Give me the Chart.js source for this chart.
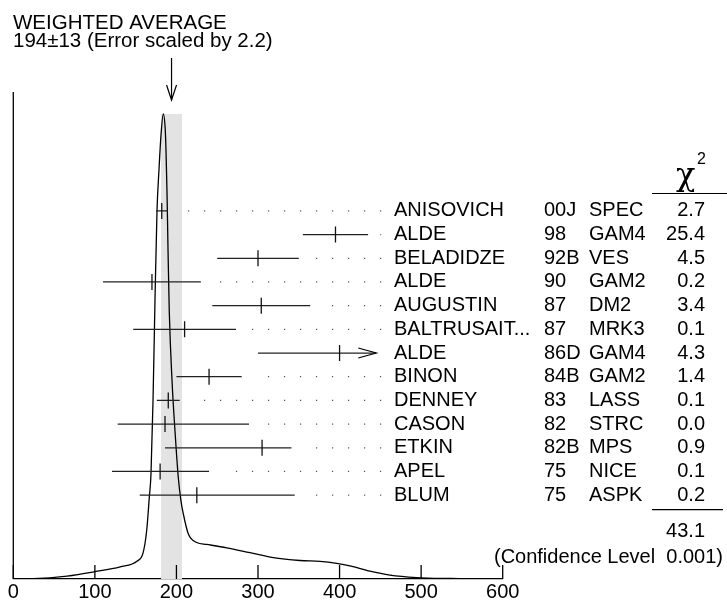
<!DOCTYPE html>
<html>
<head>
<meta charset="utf-8">
<title>Weighted average ideogram</title>
<script src="https://cdn.jsdelivr.net/npm/chart.js@4.4.1/dist/chart.umd.min.js"></script>
<style>
  html, body { margin: 0; padding: 0; background: #fff; }
  #wrap { width: 727px; height: 610px; }
</style>
</head>
<body>
<div id="wrap"><canvas id="ideogram" width="727" height="610"></canvas></div>
<script>
  // Measurements, top row first
  const authors = ['ANISOVICH', 'ALDE', 'BELADIDZE', 'ALDE', 'AUGUSTIN', 'BALTRUSAIT...', 'ALDE',
    'BINON', 'DENNEY', 'CASON', 'ETKIN', 'APEL', 'BLUM'];
  const years = ['00J', '98', '92B', '90', '87', '87', '86D', '84B', '83', '82', '82B', '75', '75'];
  const techniques = ['SPEC', 'GAM4', 'VES', 'GAM2', 'DM2', 'MRK3', 'GAM4', 'GAM2', 'LASS', 'STRC',
    'MPS', 'NICE', 'ASPK'];
  const chiSquared = ['2.7', '25.4', '4.5', '0.2', '3.4', '0.1', '4.3', '1.4', '0.1', '0.0', '0.9', '0.1', '0.2'];
  const values = [182, 395, 300, 170, 304, 210, 400, 240, 190, 186, 305, 180, 225];
  const errLow = [175, 355, 250, 110, 244, 147, 300, 200, 176, 128, 186, 121, 155];
  const errHigh = [189, 435, 350, 230, 364, 273, 445, 280, 204, 289, 341, 240, 345];
  const arrowRight = [false, false, false, false, false, false, true, false, false, false, false, false, false];

  // Weighted average
  const average = 194;
  const averageErr = 13;
  const errorScale = 2.2;
  const chiTotal = '43.1';
  const confidenceLevel = '0.001';

  // Ideogram curve (x in value units, y in % of plot height)
  const curveX = [0, 24, 66, 100, 131, 152, 159, 163.5, 166.7, 168.8, 171.3, 173.7, 176.2, 178.6, 181.1,
    183.9, 186.3, 187.2, 188.4, 189.7, 191.2, 194.6, 198.2, 202.3, 205.6, 208.4, 214.5, 224.8, 237,
    261.6, 290.2, 318.7, 351.5, 376, 396.5, 412.8, 437.3, 461.8, 494.5, 535.3, 575.8, 600];
  const curveY = [0, 0.05, 0.6, 1.5, 2.5, 3.7, 5.3, 9.9, 16.7, 21.5, 36.6, 57.2, 75.7, 84.0, 91.2,
    95.5, 92.2, 88.1, 79.8, 67.5, 55.1, 40.7, 30.5, 20.8, 16.0, 13.4, 9.3, 7.5, 7.1,
    6.4, 5.4, 4.4, 3.8, 3.6, 3.2, 2.7, 1.6, 0.8, 0.3, 0.1, 0, 0];

  const xTicks = [0, 100, 200, 300, 400, 500, 600];

  const FONT = "'Liberation Sans', Arial, Helvetica, sans-serif";
  const INK = '#000';
  const LEADER_END = 451; // where the dotted leaders stop, in value units
  const LEADER_GAP = 15;

  const peak = Math.max(...curveY);

  const datasets = [];

  // Shaded band for the weighted average
  datasets.push({
    type: 'line',
    data: [{ x: average - averageErr, y: peak }, { x: average + averageErr, y: peak }],
    yAxisID: 'y',
    fill: 'origin',
    backgroundColor: '#e3e3e3',
    borderWidth: 0,
    pointRadius: 0,
    order: 10,
  });

  // Ideogram curve
  datasets.push({
    type: 'line',
    data: curveX.map((x, i) => ({ x, y: curveY[i] })),
    yAxisID: 'y',
    borderColor: INK,
    borderWidth: 1.3,
    cubicInterpolationMode: 'monotone',
    pointRadius: 0,
    fill: false,
    order: 5,
  });

  // Error bars and dotted leaders, one pair per measurement
  authors.forEach((_, i) => {
    datasets.push({
      type: 'line',
      data: [{ x: errLow[i], y: i }, { x: errHigh[i], y: i }],
      yAxisID: 'yRows',
      borderColor: '#222',
      borderWidth: 1.3,
      pointRadius: 0,
      fill: false,
      order: 1,
    });
    if (!arrowRight[i]) {
      datasets.push({
        type: 'line',
        data: [{ x: LEADER_END, y: i }, { x: errHigh[i] + LEADER_GAP, y: i }],
        yAxisID: 'yRows',
        borderColor: '#555',
        borderWidth: 1.2,
        borderDash: [1.2, 14.8],
        pointRadius: 0,
        fill: false,
        order: 2,
      });
    }
  });

  // Central values
  datasets.push({
    type: 'scatter',
    data: values.map((v, i) => ({ x: v, y: i })),
    yAxisID: 'yRows',
    pointStyle: 'line',
    rotation: 90,
    pointRadius: 8,
    pointBorderWidth: 1.3,
    pointBorderColor: '#111',
    order: 0,
  });

  function strokeLine(ctx, x1, y1, x2, y2) {
    ctx.beginPath();
    ctx.moveTo(x1, y1);
    ctx.lineTo(x2, y2);
    ctx.stroke();
  }

  const ideogramDecor = {
    id: 'ideogramDecor',
    afterDraw(chart) {
      const { ctx, chartArea, scales } = chart;
      const xs = scales.x;
      const rows = scales.yRows;
      ctx.save();
      ctx.strokeStyle = INK;
      ctx.fillStyle = INK;
      ctx.lineWidth = 1.3;

      // Left axis line and inward ticks
      strokeLine(ctx, chartArea.left, chartArea.top, chartArea.left, chartArea.bottom);
      xTicks.forEach((v) => {
        const px = xs.getPixelForValue(v);
        strokeLine(ctx, px, chartArea.bottom, px, chartArea.bottom - 14);
      });

      // Header text
      ctx.font = `20.5px ${FONT}`;
      ctx.textAlign = 'left';
      ctx.textBaseline = 'alphabetic';
      ctx.fillText('WEIGHTED AVERAGE', 13, 28.5);
      ctx.fillText(`${average}\u00b1${averageErr} (Error scaled by ${errorScale})`, 13, 47);

      // Arrow pointing at the average
      const ax = xs.getPixelForValue(average);
      ctx.lineWidth = 1.2;
      strokeLine(ctx, ax, 58, ax, 100);
      ctx.beginPath();
      ctx.moveTo(ax - 5, 85);
      ctx.lineTo(ax, 100);
      ctx.lineTo(ax + 5, 85);
      ctx.stroke();

      // Table columns
      ctx.font = `20px ${FONT}`;
      ctx.textBaseline = 'middle';
      authors.forEach((name, i) => {
        const y = rows.getPixelForValue(i);
        ctx.textAlign = 'left';
        ctx.fillText(name, 394, y);
        ctx.fillText(years[i], 544, y);
        ctx.fillText(techniques[i], 589, y);
        ctx.textAlign = 'right';
        ctx.fillText(chiSquared[i], 705, y);

        if (arrowRight[i]) {
          const tip = xs.getPixelForValue(errHigh[i]);
          ctx.beginPath();
          ctx.moveTo(tip - 18, y - 5);
          ctx.lineTo(tip, y);
          ctx.lineTo(tip - 18, y + 5);
          ctx.stroke();
        }
      });

      // Chi-squared header
      ctx.textAlign = 'left';
      ctx.textBaseline = 'alphabetic';
      ctx.font = "32px 'DejaVu Serif', serif";
      ctx.fillText('\u03c7', 676, 185);
      ctx.font = `16px ${FONT}`;
      ctx.fillText('2', 697, 164);
      strokeLine(ctx, 652, 193.5, 727, 193.5);

      // Total and confidence level
      const lastY = rows.getPixelForValue(authors.length - 1);
      strokeLine(ctx, 652, lastY + 14.5, 723, lastY + 14.5);
      ctx.font = `20px ${FONT}`;
      ctx.textAlign = 'right';
      ctx.textBaseline = 'middle';
      ctx.fillText(chiTotal, 705, lastY + 36);
      ctx.fillText(`(Confidence Level  ${confidenceLevel})`, 723, lastY + 62);

      ctx.restore();
    },
  };

  new Chart(document.getElementById('ideogram'), {
    type: 'line',
    data: { datasets },
    options: {
      responsive: false,
      animation: false,
      devicePixelRatio: 1,
      layout: { padding: { left: 13.3, right: 224.3, top: 92, bottom: 5 } },
      plugins: {
        legend: { display: false },
        tooltip: { enabled: false },
        title: { display: false },
      },
      scales: {
        x: {
          type: 'linear',
          position: 'bottom',
          min: 0,
          max: 600,
          ticks: {
            stepSize: 100,
            color: INK,
            font: { family: FONT, size: 20 },
            padding: 1,
            maxRotation: 0,
            autoSkip: false,
          },
          grid: { display: false, drawTicks: false },
          border: { display: true, color: INK, width: 1.3 },
        },
        y: { type: 'linear', axis: 'y', min: 0, max: 100, display: false },
        yRows: { type: 'linear', axis: 'y', min: -5.02, max: 15.54, reverse: true, display: false },
      },
    },
    plugins: [ideogramDecor],
  });
</script>
</body>
</html>
